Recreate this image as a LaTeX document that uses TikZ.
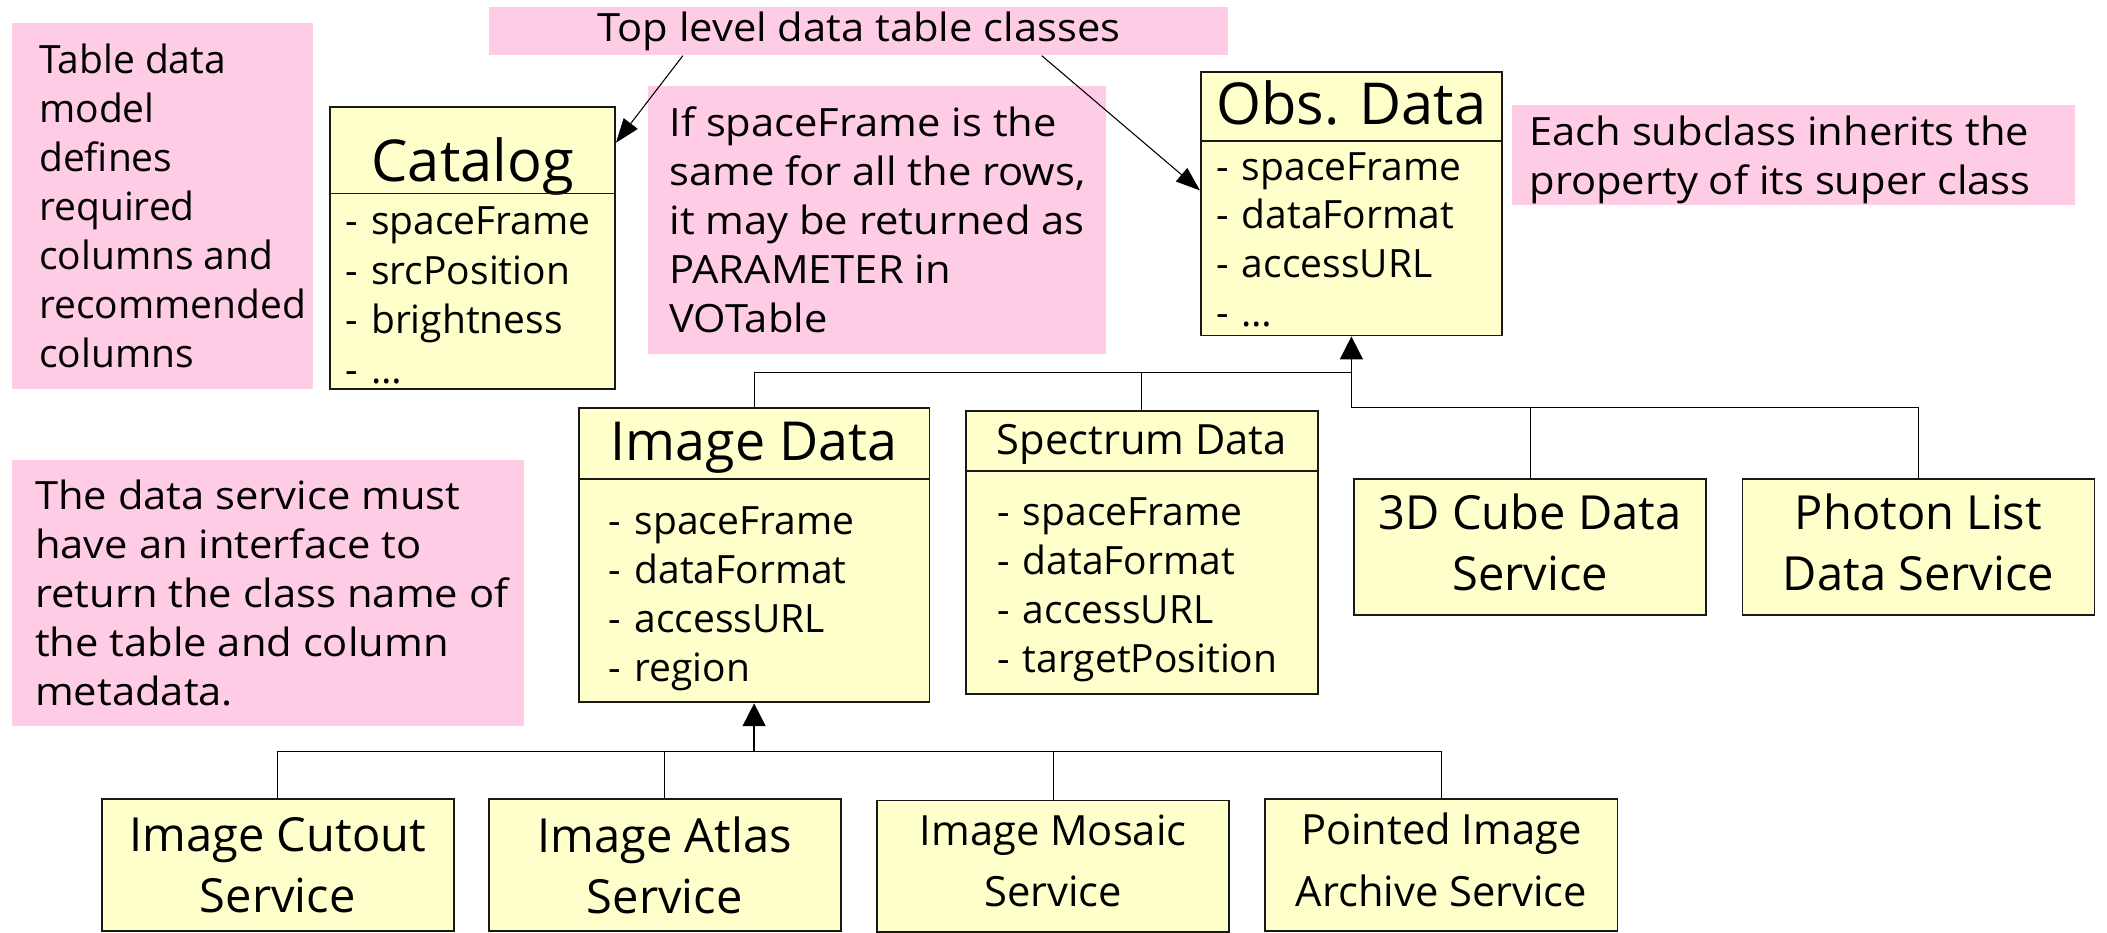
\documentclass[tikz,border=0pt]{standalone}
\usepackage{fontspec}
\setmainfont{Open Sans}
\newfontfamily\notefamily{Open Sans}[FakeStretch=1.07]
\usetikzlibrary{arrows.meta}

\definecolor{notepink}{RGB}{255,204,229}
\definecolor{classyellow}{RGB}{255,255,204}
\newcommand{\bodysize}{\fontsize{29}{36.4}\selectfont}
\newcommand{\notesize}{\notefamily\fontsize{29}{36.4}\selectfont}
\newcommand{\attr}[1]{\makebox[1em][c]{-}#1}
\newcommand{\lift}{\rule[-8pt]{0pt}{8pt}}

\tikzset{
  notebox/.style={fill=notepink, anchor=north west, inner sep=0pt},
  notetext/.style={anchor=west, align=left, inner sep=0pt, font=\notesize},
  classbox/.style={draw=black!90, line width=1.4pt, fill=classyellow, anchor=north west, inner sep=0pt},
  servicebox/.style={classbox, align=center, minimum width=262pt, minimum height=98pt},
  classline/.style={line width=1.4pt, draw=black!90},
  attrtext/.style={anchor=base west, inner sep=0pt, font=\bodysize},
  titletext/.style={anchor=base, inner sep=0pt},
  inherit/.style={line width=1.3pt, -{Triangle[length=17pt,width=17pt]}},
  wire/.style={line width=0.9pt},
  pointer/.style={line width=0.8pt, -{Triangle[length=18pt,width=13pt]}}
}

\begin{document}
\begin{tikzpicture}[x=1pt,y=-1pt]
  \useasboundingbox (0,0) rectangle (1568,694);

  %% notes
  \node[notebox, minimum width=224pt, minimum height=272pt] (modelnote) at (9,17) {};
  \node[notetext, font=\bodysize] (modelnote-text) at ([xshift=20pt]modelnote.west)
    {Table data\\model\\defines\\required\\columns and\\recommended\\columns};
  \node[notebox, minimum width=550pt, minimum height=36pt, font=\notesize] (toplabel) at (364,5)
    {Top level data table classes};
  \node[notebox, minimum width=341pt, minimum height=199pt] (rownote) at (482,64) {};
  \node[notetext] (rownote-text) at ([xshift=16pt]rownote.west)
    {If spaceFrame is the\\same for all the rows,\\it may be returned as\\PARAMETER in\\VOTable};
  \node[notebox, minimum width=419pt, minimum height=74pt] (subnote) at (1125,78) {};
  \node[notetext] (subnote-text) at ([xshift=13pt, yshift=-4pt]subnote.west)
    {Each subclass inherits the\\property of its super class};
  \node[notebox, minimum width=381pt, minimum height=198pt] (servicenote) at (9,342) {};
  \node[notetext] (servicenote-text) at ([xshift=17pt]servicenote.west)
    {The data service must\\have an interface to\\return the class name of\\the table and column\\metadata.};

  %% Catalog
  \node[classbox, minimum width=212pt, minimum height=210pt] (catalog) at (245,79) {};
  \node[titletext, font=\fontsize{43}{50}\selectfont] (catalog-title) at ([yshift=-56pt]catalog.north) {Catalog};
  \draw[classline] ([yshift=-65pt]catalog.north west) -- ([yshift=-65pt]catalog.north east);
  \foreach \a [count=\i from 0] in {spaceFrame, srcPosition, brightness, {\ldots}}
    \node[attrtext] (catalog-\i) at ([xshift=2pt, yshift=-95.5pt-37pt*\i]catalog.north west) {\attr{\a}};

  %% Obs. Data
  \node[classbox, minimum width=224pt, minimum height=196pt] (obsdata) at (893,53) {};
  \node[titletext, font=\fontsize{43}{50}\selectfont] (obsdata-title) at ([yshift=-40pt]obsdata.north) {Obs. Data};
  \draw[classline] ([yshift=-52pt]obsdata.north west) -- ([yshift=-52pt]obsdata.north east);
  \foreach \a [count=\i from 0] in {spaceFrame, dataFormat, accessURL, {\ldots}}
    \node[attrtext] (obsdata-\i) at ([xshift=2pt, yshift=-81pt-36.3pt*\i]obsdata.north west) {\attr{\a}};

  %% Image Data
  \node[classbox, minimum width=261pt, minimum height=219pt] (imagedata) at (430,303) {};
  \node[titletext, font=\fontsize{40}{48}\selectfont] (imagedata-title) at ([yshift=-40pt]imagedata.north) {Image Data};
  \draw[classline] ([yshift=-53.5pt]imagedata.north west) -- ([yshift=-53.5pt]imagedata.north east);
  \foreach \a [count=\i from 0] in {spaceFrame, dataFormat, accessURL, region}
    \node[attrtext] (imagedata-\i) at ([xshift=13pt, yshift=-94.5pt-36.6pt*\i]imagedata.north west) {\attr{\a}};

  %% Spectrum Data
  \node[classbox, minimum width=262pt, minimum height=211pt] (spectrum) at (718,305) {};
  \node[titletext, font=\fontsize{31}{38}\selectfont] (spectrum-title) at ([yshift=-33pt]spectrum.north) {Spectrum Data};
  \draw[classline] ([yshift=-45.3pt]spectrum.north west) -- ([yshift=-45.3pt]spectrum.north east);
  \foreach \a [count=\i from 0] in {spaceFrame, dataFormat, accessURL, targetPosition}
    \node[attrtext] (spectrum-\i) at ([xshift=14pt, yshift=-86pt-36.6pt*\i]spectrum.north west) {\attr{\a}};

  %% services
  \node[servicebox, minimum height=101pt, font=\fontsize{35}{45.5}\selectfont] (cube) at (1007,356) {3D Cube Data\\Service\lift};
  \node[servicebox, minimum height=101pt, font=\fontsize{35}{45.5}\selectfont] (photon) at (1296,356) {Photon List\\Data Service\lift};
  \node[servicebox, font=\fontsize{35}{45.5}\selectfont] (cutout) at (75,594) {Image Cutout\\Service};
  \node[servicebox, font=\fontsize{35}{45.5}\selectfont] (atlas) at (363,594) {Image Atlas\\Service};
  \node[servicebox, font=\fontsize{31}{45.5}\selectfont] (mosaic) at (652,595) {Image Mosaic\\Service\lift};
  \node[servicebox, font=\fontsize{31}{45.5}\selectfont] (pointed) at (941,594) {Pointed Image\\Archive Service\lift};

  %% inheritance to Obs. Data
  \coordinate (obsbus) at (obsdata.south |- 0,277);
  \coordinate (obsbus-low) at (obsdata.south |- 0,303);
  \draw[wire] (imagedata.north) |- (obsbus);
  \draw[wire] (spectrum.north) -- (spectrum.north |- obsbus);
  \draw[wire] (obsbus-low) -| (photon.north);
  \draw[wire] (cube.north) -- (cube.north |- obsbus-low);
  \draw[inherit] (obsbus-low) -- (obsdata.south);

  %% inheritance to Image Data
  \coordinate (imgbus) at (imagedata.south |- 0,559);
  \draw[wire] (cutout.north) |- (imgbus) -| (pointed.north);
  \foreach \n in {atlas, mosaic}
    \draw[wire] (\n.north) -- (\n.north |- imgbus);
  \draw[inherit] (imgbus) -- (imagedata.south);

  %% top level pointers
  \draw[pointer] ([xshift=-131pt]toplabel.south) -- ([yshift=78.5pt]catalog.east);
  \draw[pointer] ([xshift=136pt]toplabel.south) -- ([yshift=10pt]obsdata.west);
\end{tikzpicture}
\end{document}
